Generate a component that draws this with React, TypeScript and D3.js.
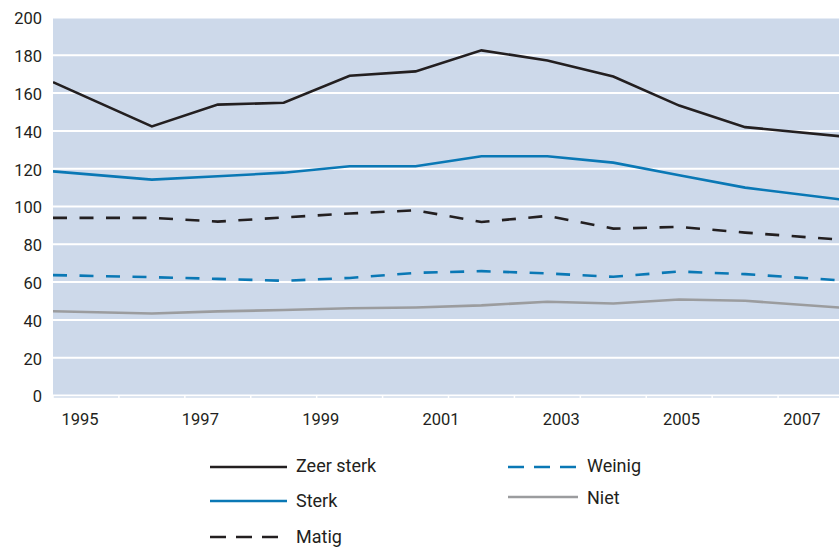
import { line as d3_line, scaleLinear } from "d3";
import type { FC } from "react";

// positions along the x axis, in tick units (0 = left edge of plot, 12 = right edge)
const points = [0, 1.5, 2.5, 3.5, 4.5, 5.5, 6.5, 7.5, 8.5, 9.5, 10.5, 12];

const zeerSterk = [165.8, 142.4, 153.9, 154.9, 169.2, 171.5, 182.6, 177.3, 168.8, 153.4, 142.0, 137.0];
const sterk = [118.6, 114.2, 116.0, 117.9, 121.3, 121.3, 126.6, 126.6, 123.2, 116.5, 110.0, 103.5];
const matig = [94.0, 94.0, 92.0, 94.2, 96.3, 98.0, 91.8, 95.0, 88.3, 89.2, 86.2, 82.3];
const weinig = [63.7, 62.6, 61.7, 60.7, 62.2, 64.9, 65.8, 64.6, 62.8, 65.6, 64.2, 60.8];
const niet = [44.6, 43.4, 44.5, 45.2, 46.2, 46.6, 47.7, 49.6, 48.7, 50.8, 50.1, 46.4];

const yearLabels = [1995, 1997, 1999, 2001, 2003, 2005, 2007];
const yTicks = [0, 20, 40, 60, 80, 100, 120, 140, 160, 180, 200];

const DARK = "#231f20";
const BLUE = "#0a78b5";
const GREY = "#9b9c9e";

const series = [
  { label: "Zeer sterk", values: zeerSterk, color: DARK, dash: undefined },
  { label: "Sterk", values: sterk, color: BLUE, dash: undefined },
  { label: "Matig", values: matig, color: DARK, dash: "14,12.5" },
  { label: "Weinig", values: weinig, color: BLUE, dash: "14,12.5" },
  { label: "Niet", values: niet, color: GREY, dash: undefined },
];

const W = 839;
const H = 547;
const plot = { left: 53, right: 844, top: 17.5, bottom: 395.5 };
const FONT = "Roboto, 'Liberation Sans', sans-serif";

const App: FC = () => {
  const x = scaleLinear().domain([0, 12]).range([plot.left, plot.right]);
  const yearX = scaleLinear().domain([1994.55, 2007.7]).range([plot.left, plot.right]);
  const y = scaleLinear().domain([0, 200]).range([plot.bottom, plot.top]);

  const line = d3_line<number>()
    .x((_, i) => x(points[i]))
    .y((d) => y(d));

  // legenda in twee kolommen
  const legend = [
    { s: series[0], lx: 210, len: 77, ly: 467, ty: 472 },
    { s: series[1], lx: 210, len: 77, ly: 501, ty: 507 },
    { s: series[2], lx: 210, len: 77, ly: 537, ty: 543 },
    { s: series[3], lx: 508, len: 70, ly: 467, ty: 472 },
    { s: series[4], lx: 508, len: 70, ly: 497, ty: 504 },
  ];

  return (
    <svg
      width={W}
      height={H}
      style={{ position: "absolute", left: 0, top: 0, background: "#fff" }}
      fontFamily={FONT}
    >
      <defs>
        <clipPath id="plotClip">
          <rect x={plot.left} y={plot.top - 2} width={plot.right - plot.left} height={plot.bottom - plot.top + 4} />
        </clipPath>
      </defs>

      {/* achtergrond */}
      <rect
        x={plot.left}
        y={plot.top}
        width={plot.right - plot.left}
        height={plot.bottom - plot.top}
        fill="#cdd9ea"
      />

      {/* rasterlijnen */}
      {yTicks.map((t) => (
        <line
          key={t}
          x1={plot.left}
          x2={plot.right}
          y1={y(t)}
          y2={y(t)}
          stroke="#fff"
          strokeWidth={2}
        />
      ))}

      {/* x-as */}
      <line x1={plot.left} x2={plot.right} y1={plot.bottom + 1.5} y2={plot.bottom + 1.5} stroke="#dde5f0" strokeWidth={2} />
      {x.ticks(12).map((t) => (
        <line key={t} x1={x(t)} x2={x(t)} y1={plot.bottom} y2={plot.bottom + 3} stroke="#fff" strokeWidth={1.5} />
      ))}

      {/* y labels */}
      {yTicks.map((t) => (
        <text
          key={t}
          x={42}
          y={y(t) + 1}
          dy="0.36em"
          textAnchor="end"
          fontSize={16.5}
          fill={DARK}
        >
          {t}
        </text>
      ))}

      {/* x labels */}
      {yearLabels.map((yr) => (
        <text key={yr} x={yearX(yr)} y={425} textAnchor="middle" fontSize={16.5} fill={DARK}>
          {yr}
        </text>
      ))}

      {/* lijnen */}
      <g clipPath="url(#plotClip)">
        {series
          .slice()
          .reverse()
          .map((s) => (
            <path
              key={s.label}
              d={line(s.values) ?? ""}
              fill="none"
              stroke={s.color}
              strokeWidth={2.6}
              strokeDasharray={s.dash}
              strokeLinejoin="miter"
            />
          ))}
      </g>

      {/* legenda */}
      {legend.map(({ s, lx, len, ly, ty }) => (
        <g key={s.label}>
          <line
            x1={lx}
            x2={lx + len}
            y1={ly}
            y2={ly}
            stroke={s.color}
            strokeWidth={2.6}
            strokeDasharray={s.dash ? "16,10" : undefined}
          />
          <text x={lx + len + 9} y={ty} fontSize={18} fill={DARK}>
            {s.label}
          </text>
        </g>
      ))}
    </svg>
  );
};

export default App;
